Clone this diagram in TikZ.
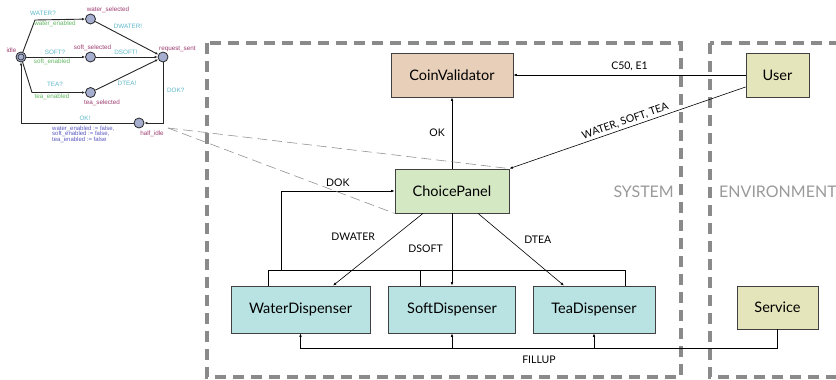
\documentclass[tikz,border=0pt]{standalone}
\usepackage{fontspec}
\setmainfont{Lato}
\newfontfamily\autfont{Liberation Sans}
\usetikzlibrary{arrows.meta}
\definecolor{framec}{HTML}{8A8A8A}
\definecolor{cvfill}{HTML}{E8CFBA}
\definecolor{cpfill}{HTML}{D4E8C4}
\definecolor{userfill}{HTML}{E4E5BA}
\definecolor{dispfill}{HTML}{B9E3E3}
\definecolor{stfill}{HTML}{A5AECF}
\definecolor{snamec}{HTML}{9E3F72}
\definecolor{syncc}{HTML}{5DB7C9}
\definecolor{guardc}{HTML}{62B862}
\definecolor{assignc}{HTML}{5A5AC0}
\definecolor{syslbl}{HTML}{9A9A9A}
\tikzset{
  comp/.style={draw=black!75, line width=0.8pt, inner sep=0pt, font=\fontsize{14.5}{17}\selectfont},
  conn/.style={draw=black, line width=0.6pt, -{Latex[length=3.5pt,width=2.6pt]}},
  wire/.style={draw=black, line width=0.6pt},
  lbl/.style={font=\fontsize{10.5}{12}\selectfont, inner sep=1pt},
  frame/.style={draw=framec, line width=4.5pt, dash pattern=on 11pt off 7pt},
  zoomline/.style={draw=gray!85, line width=0.6pt, dash pattern=on 10pt off 5pt},
  st/.style={circle, draw=black!85, fill=stfill, minimum size=10pt, inner sep=0pt, line width=0.8pt},
  aedge/.style={draw=black!85, line width=0.9pt, -{Latex[length=3pt,width=2.6pt]}},
  autbase/.style={inner sep=0pt, font=\autfont\fontsize{6.3}{6.3}\selectfont},
  sname/.style={autbase, text=snamec},
  sync/.style={autbase, text=syncc},
  guard/.style={autbase, text=guardc},
  assign/.style={autbase, text=assignc, align=left, font=\autfont\fontsize{6}{5.8}\selectfont},
  syslabel/.style={text=syslbl, inner sep=0pt, font=\fontsize{16}{18}\selectfont}
}
\begin{document}
\begin{tikzpicture}[x=1pt,y=-1pt]
\clip (0,0) rectangle (836,380);
\fill[white] (0,0) rectangle (836,380);

% frames
\draw[frame] (207,43) rectangle (681,377);
\draw[frame] (710,43) rectangle (900,377);
\node[syslabel, anchor=east] (system) at (674,192) {SYSTEM};
\node[syslabel, anchor=west] (environment) at (719,192) {ENVIRONMENT};

% components
\node[comp, fill=cvfill, minimum width=122pt, minimum height=44pt] (cv) at (452,75) {CoinValidator};
\node[comp, fill=cpfill, minimum width=114pt, minimum height=44pt] (cp) at (452,191) {ChoicePanel};
\node[comp, fill=userfill, minimum width=63pt, minimum height=44pt] (user) at (777.5,75) {User};
\node[comp, fill=dispfill, minimum width=139pt, minimum height=47pt] (wd) at (300.5,309.5) {WaterDispenser};
\node[comp, fill=dispfill, minimum width=127pt, minimum height=47pt] (sd) at (452,309.5) {SoftDispenser};
\node[comp, fill=dispfill, minimum width=122pt, minimum height=47pt] (td) at (594,309.5) {TeaDispenser};
\node[comp, fill=userfill, minimum width=81pt, minimum height=43pt] (service) at (777.5,307.5) {Service};

% connectors
\draw[conn] (user.west) -- (cv.east) node[lbl, midway, above=3pt] {C50, E1};
\draw[conn] ([yshift=-12pt]user.west) -- (cp.north east) node[lbl, midway, sloped, above=1pt] {WATER, SOFT, TEA};
\draw[conn] (cp.north) -- (cv.south) node[lbl, midway, left=6pt] {OK};
\draw[conn] ([xshift=-29pt]cp.south) -- ([xshift=32.5pt]wd.north) node[lbl, pos=0.33, left=17pt] {DWATER};
\draw[conn] (cp.south) -- (cp.south |- sd.north) node[lbl, pos=0.49, left=8pt] {DSOFT};
\draw[conn] ([xshift=26pt]cp.south) -- ([xshift=-30pt]td.north) node[lbl, pos=0.36, right=14pt] {DTEA};

% DOK bus
\coordinate (dokbus) at (281,271);
\draw[wire] ([xshift=-32.5pt]wd.north) -- ++(0,-15) -| ([xshift=31pt]td.north);
\draw[wire] ([xshift=-31.5pt]sd.north) -- ++(0,-15);
\draw[conn] (dokbus) |- (cp.west) node[lbl, pos=0.75, above=3pt] {DOK};

% FILLUP bus
\coordinate (fillbus) at (0,348);
\draw[conn] (service.south) |- (wd.south |- fillbus) -- (wd.south);
\draw[conn] (sd.south |- fillbus) -- (sd.south);
\draw[conn] (td.south |- fillbus) -- (td.south);
\node[lbl] (fillup) at (539,360) {FILLUP};

% zoom lines
\coordinate (zsrc) at (168,128);
\draw[zoomline] (zsrc) -- (cp.north east);
\draw[zoomline] (zsrc) -- (cp.south west);

% automaton
\node[st] (idle) at (21,57) {};
\draw[black!85, line width=0.6pt] (idle) circle (3pt);
\node[st] (ws) at (90.5,19) {};
\node[st] (ss) at (90.5,57) {};
\node[st] (ts) at (90.5,92.5) {};
\node[st] (rs) at (163,57) {};
\node[st] (hi) at (139,123) {};

\node[sname] (idlel) at (11.5,50) {idle};
\node[sname] (wsl) at (108,10) {water\_selected};
\node[sname, anchor=west] (rsl) at (159,49) {request\_sent};
\node[sname] (ssl) at (92.5,48) {soft\_selected};
\node[sname] (tsl) at (102,103) {tea\_selected};
\node[sname] (hil) at (152,134) {half\_idle};

\draw[aedge] (idle) -- (35,20) -- (ws);
\node[sync] (l1) at (43,13) {WATER?};
\node[guard] (l2) at (55,24) {water\_enabled};
\draw[aedge] (idle) -- (ss);
\node[sync] (l3) at (55,52) {SOFT?};
\node[guard] (l4) at (52,62) {soft\_enabled};
\draw[aedge] (idle) -- (32,92.5) -- (ts);
\node[sync] (l5) at (55,84) {TEA?};
\node[guard] (l6) at (52,97) {tea\_enabled};
\draw[aedge] (ws) -- (rs);
\node[sync] (l7) at (128,26) {DWATER!};
\draw[aedge] (ss) -- (rs);
\node[sync] (l8) at (126,52) {DSOFT!};
\draw[aedge] (ts) -- (rs);
\node[sync] (l9) at (127,83) {DTEA!};
\draw[aedge] (rs) -- (163,123) -- (hi);
\node[sync, anchor=west] (l10) at (167,90) {DOK?};
\draw[aedge] (hi) -- (21,123) -- (idle);
\node[sync] (l11) at (85,118) {OK!};
\node[assign, anchor=north west] (l12) at (52,125.5) {water\_enabled := false,\\soft\_enabled := false,\\tea\_enabled := false};
\end{tikzpicture}
\end{document}
